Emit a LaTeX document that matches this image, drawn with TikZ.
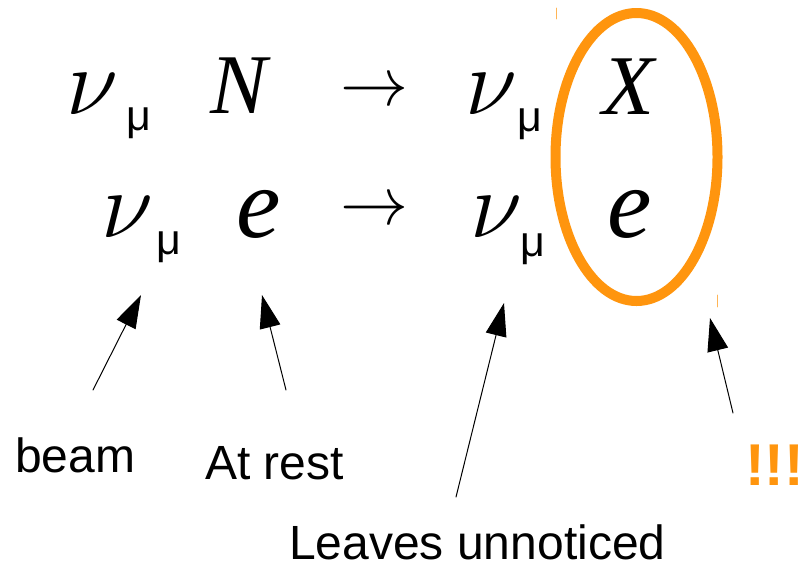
\documentclass[tikz,border=0pt]{standalone}
\usepackage{fix-cm}
\usepackage{fontspec}
\setmainfont{Liberation Sans}
\newfontfamily\serifchu{Liberation Serif}
\usetikzlibrary{arrows.meta}
\begin{document}
\begin{tikzpicture}[x=1pt,y=-1pt,line join=round,line cap=round]
    \definecolor{cam}{RGB}{255,149,14}
    \tikzset{
        chu/.style={anchor=base west,inner sep=0pt,font=\fontsize{85}{85}\selectfont\serifchu\itshape},
        chu_e/.style={chu,font=\fontsize{100}{100}\selectfont\serifchu\itshape},
        chu_nu/.style={anchor=base west,inner sep=0pt,font=\fontsize{95}{95}\selectfont},
        chi_so/.style={anchor=base west,inner sep=0pt,font=\fontsize{43}{43}\selectfont},
        mui_ten/.style={anchor=base west,inner sep=0pt,font=\fontsize{68}{68}\selectfont},
        nhan/.style={anchor=base west,inner sep=0pt,font=\fontsize{48}{48}\selectfont},
        tro/.style={line width=1pt,-{Triangle[length=33pt,width=21pt]}}
    }
    \useasboundingbox (0,0) rectangle (805,568);
    % dong 1
    \node[chu_nu] (nu1) at (66,114) {$\nu$};
    \node[chi_so] (mu1) at (126,130) {μ};
    \node[chu] (N) at (210,113) {N};
    \node[mui_ten] (to1) at (340,105) {$\rightarrow$};
    \node[chu_nu] (nu3) at (465,114) {$\nu$};
    \node[chi_so] (mu3) at (517,131) {μ};
    \node[chu] (X) at (602,114) {X};
    % dong 2
    \node[chu_nu] (nu2) at (101,237) {$\nu$};
    \node[chi_so] (mu2) at (156,254) {μ};
    \node[chu_e] (e1) at (236,237) {e};
    \node[mui_ten] (to2) at (340,224) {$\rightarrow$};
    \node[chu_nu] (nu4) at (470,237) {$\nu$};
    \node[chi_so] (mu4) at (520,256) {μ};
    \node[chu_e] (e2) at (607,237) {e};
    % vong cam
    \draw[cam,line width=10pt] (636.5,157) ellipse (81 and 144);
    \draw[cam!70,line width=.8pt] (556,8)--(556,19) (717.5,295)--(717.5,307);
    % nhan
    \node[nhan] (beam) at (15,472) {beam};
    \node[nhan] (rest) at (205,479) {At rest};
    \node[nhan,text depth=0pt] (leave) at (289,559) {Leaves unnoticed};
    \node[anchor=base west,inner sep=0pt,text=cam,font=\fontsize{59}{59}\selectfont\bfseries] (bang) at (745,485) {!!!};
    \coordinate (c1) at (93,390);   \coordinate (d1) at (141,295);
    \coordinate (c2) at (286,390);  \coordinate (d2) at (262,295);
    \coordinate (c3) at (456,497);  \coordinate (d3) at (504,303);
    \coordinate (c4) at (733,413);  \coordinate (d4) at (710,318);
    \foreach \i in {1,...,4}
        \draw[tro] (c\i)--(d\i);
\end{tikzpicture}
\end{document}
